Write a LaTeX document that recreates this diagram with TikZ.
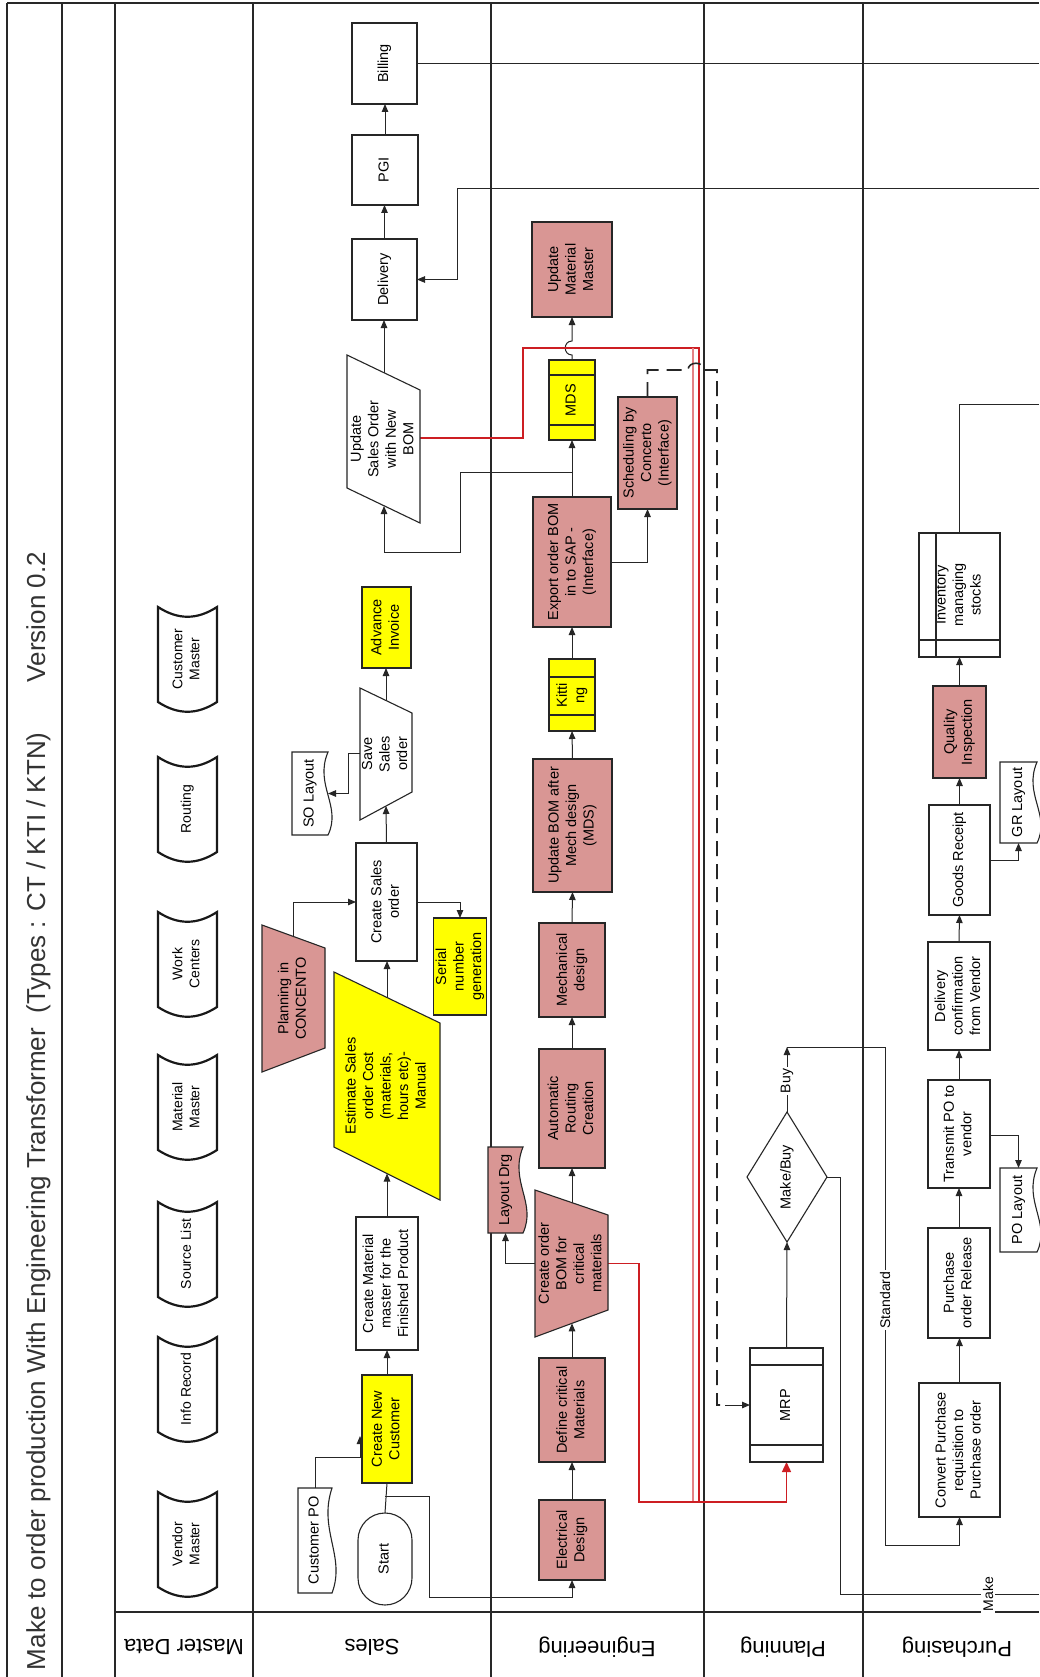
\documentclass[tikz,border=0pt]{standalone}
\usepackage{fontspec}
\setmainfont{Liberation Sans}
\usetikzlibrary{arrows.meta,shapes.geometric}
\pgfdeclarelayer{background}
\pgfsetlayers{background,main}
\definecolor{pinkfill}{RGB}{217,150,148}
\definecolor{yel}{RGB}{255,255,0}
\definecolor{redline}{RGB}{205,30,35}
\definecolor{lanegray}{RGB}{40,40,40}
% rotated, centred multi-line label
\newcommand\rtx[1]{\rotatebox{90}{\begin{tabular}{@{}c@{}}#1\end{tabular}}}
% document symbol with a wavy right edge: name, x1, x2, top, bottom, text, fill
\newcommand\docshape[7]{%
  \draw[shapeline, fill=#7] (#2,#4) -- (#3,#4)
    .. controls ({#3-14},{#4+0.4*(#5-#4)}) and ({#3+14},{#4+0.65*(#5-#4)}) .. (#3,#5)
    -- (#2,#5) -- cycle;
  \node[minimum width={(#3-#2)*1pt}, minimum height={(#5-#4)*1pt}] (#1)
    at ({(#2+#3)/2},{(#4+#5)/2}) {\rtx{#6}};}
\begin{document}
\begin{tikzpicture}[x=1pt,y=-1pt,
  every node/.style={font=\fontsize{14.5}{17.5}\selectfont, inner sep=0pt, outer sep=0pt},
  shapeline/.style={draw=black!85, line width=1.1pt},
  box/.style={shapeline, fill=white},
  pinkbox/.style={box, fill=pinkfill},
  yelbox/.style={box, fill=yel},
  sz/.style 2 args={minimum width=#1pt, minimum height=#2pt},
  conn/.style={draw=black!85, line width=1pt},
  arr/.style={conn, -{Triangle[length=8pt,width=6.5pt]}},
  redconn/.style={draw=redline, line width=1.4pt},
  lane/.style={draw=lanegray, line width=1.6pt},
  mdline/.style={draw=black!90, line width=2.2pt, fill=white},
  lanelabel/.style={rotate=180, font=\fontsize{22}{26}\selectfont},
  linelabel/.style={rotate=90, fill=white, inner sep=1.5pt, font=\fontsize{14}{16}\selectfont}
]
\useasboundingbox (0,0) rectangle (1039,1677);

% ---------- master data ----------
\foreach \nm/\ty/\txt in {mdcust/607/{Customer\\Master}, mdrout/757/{Routing},
    mdwork/912/{Work\\Centers}, mdmat/1055/{Material\\Master}, mdsrc/1202/{Source List},
    mdinfo/1337/{Info Record}, mdvend/1492/{Vendor\\Master}} {
  \draw[mdline] (158,\ty) .. controls (178,\ty+13) and (197,\ty+13) .. (217,\ty)
    -- (217,\ty+95) .. controls (197,\ty+108) and (178,\ty+108) .. (158,\ty+95) -- cycle;
  \node[font=\fontsize{14}{17}\selectfont] (\nm) at (187.5,\ty+52) {\rtx{\txt}};
}

% ---------- sales lane shapes ----------
\node[box, sz={65}{81}] (billing) at (384.5,63.5) {\rtx{Billing}};
\node[box, sz={66}{70}] (pgi) at (385,170) {\rtx{PGI}};
\node[box, sz={65}{81}] (delivery) at (384.5,279.5) {\rtx{Delivery}};
\draw[box] (347,355) -- (420,390) -- (420,523) -- (347,488) -- cycle;
\node[sz={73}{168}] (updso) at (383.5,439) {\rtx{Update\\Sales Order\\with New\\BOM}};
\coordinate (updsoT) at (384,373);
\coordinate (updsoB) at (384,506);
\node[yelbox, sz={49}{81}] (advinv) at (386.5,627.5) {\rtx{Advance\\Invoice}};
\draw[box] (360,688) -- (412,713) -- (412,792) -- (360,820) -- cycle;
\node[sz={52}{132}] (savso) at (386,754) {\rtx{Save\\Sales\\order}};
\coordinate (savsoT) at (386,700.5);
\coordinate (savsoB) at (386,806);
\docshape{solayout}{292}{328}{752}{835}{SO Layout}{white}
\node[box, sz={61}{118}] (cso) at (386.5,902) {\rtx{Create Sales\\order}};
\node[yelbox, sz={50}{97}] (serial) at (460,966.5) {\rtx{Serial\\number\\generation}};
\draw[box, fill=pinkfill] (262,925) -- (325,948) -- (325,1048) -- (262,1072) -- cycle;
\node[sz={63}{147}] (planning) at (293.5,998.5) {\rtx{Planning in\\CONCENTO}};
\coordinate (planT) at (293,936.3);
\draw[box, fill=yel] (334,972) -- (440,1023) -- (440,1200) -- (334,1147) -- cycle;
\node[sz={106}{228}] (estimate) at (387,1086) {\rtx{Estimate Sales\\order Cost\\(materials,\\hours etc)-\\Manual}};
\coordinate (estT) at (387,997.5);
\coordinate (estB) at (387,1173.5);
\node[box, sz={62}{133}] (cmm) at (387,1283.5) {\rtx{Create Material\\master for the\\Finished Product}};
\node[yelbox, sz={50}{108}] (cnc) at (387,1429) {\rtx{Create New\\Customer}};
\node[box, rounded corners=27pt, sz={54}{92}] (start) at (385,1559) {\rtx{Start}};
\docshape{custpo}{298}{332}{1488}{1593}{Customer PO}{white}

% ---------- engineering lane shapes ----------
\node[pinkbox, sz={80}{95}] (umm) at (572,269.5) {\rtx{Update\\Material\\Master}};
\node[yelbox, sz={46}{80}] (mds) at (572,400) {\rtx{MDS}};
\draw[shapeline] (549,375) -- (595,375) (549,425) -- (595,425);
\node[pinkbox, sz={59}{112}] (sched) at (647.5,453) {\rtx{Scheduling by\\Concerto\\(Interface)}};
\node[pinkbox, sz={78}{130}] (export) at (572,562) {\rtx{Export order BOM\\in to SAP -\\(Interface)}};
\node[yelbox, sz={46}{72}] (kitting) at (572,695) {\rtx{Kitti\\ng}};
\draw[shapeline] (549,677) -- (595,677) (549,715) -- (595,715);
\node[pinkbox, sz={79}{133}] (updbom) at (572.5,825.5) {\rtx{Update BOM after\\Mech design\\(MDS)}};
\node[pinkbox, sz={66}{94}] (mech) at (572,970) {\rtx{Mechanical\\design}};
\node[pinkbox, sz={66}{119}] (autorout) at (572,1108.5) {\rtx{Automatic\\Routing\\Creation}};
\draw[box, fill=pinkfill] (535,1190) -- (608,1215) -- (608,1310) -- (535,1337) -- cycle;
\node[sz={73}{147}] (cbom) at (571.5,1263.5) {\rtx{Create order\\BOM for\\critical\\materials}};
\coordinate (cbomT) at (572,1202.7);
\coordinate (cbomB) at (572,1323.3);
\docshape{layoutdrg}{488}{523}{1147}{1233}{Layout Drg}{pinkfill}
\node[pinkbox, sz={66}{104}] (defcrit) at (572,1410) {\rtx{Define critical\\Materials}};
\node[pinkbox, sz={66}{80}] (elec) at (572,1540) {\rtx{Electrical\\Design}};

% ---------- planning lane shapes ----------
\node[box, sz={73}{114}] (mrp) at (786.5,1405) {\rtx{MRP}};
\draw[shapeline] (750,1365) -- (823,1365) (750,1445) -- (823,1445);
\node[box, diamond, aspect=0.6, minimum width=80pt, minimum height=130pt] (mb) at (787,1177) {\rtx{Make/Buy}};

% ---------- purchasing lane shapes ----------
\node[box, sz={81}{124}] (inv) at (959.5,595) {\rtx{Inventory\\managing\\stocks}};
\draw[shapeline] (936,533) -- (936,657) (919,640) -- (1000,640);
\node[pinkbox, sz={53}{92}] (qi) at (959.5,732) {\rtx{Quality\\Inspection}};
\docshape{grlayout}{1000}{1037}{762}{843}{GR Layout}{white}
\node[box, sz={61}{110}] (gr) at (959.5,860) {\rtx{Goods Receipt}};
\node[box, sz={62}{108}] (delconf) at (959,996) {\rtx{Delivery\\confirmation\\from Vendor}};
\node[box, sz={62}{108}] (transmit) at (959,1134) {\rtx{Transmit PO to\\vendor}};
\docshape{polayout}{1000}{1037}{1168}{1252}{PO Layout}{white}
\node[box, sz={62}{110}] (porel) at (959,1283) {\rtx{Purchase\\order Release}};
\node[box, sz={81}{134}] (convpr) at (959.5,1450) {\rtx{Convert Purchase\\requisition to\\Purchase order}};

% ---------- line labels ----------
\node[linelabel] (lbuy) at (787,1081) {Buy};
\node[linelabel] (lstd) at (885,1300) {Standard};
\node[linelabel] (lmake) at (988,1594) {Make};

% ---------- frame and connectors, underneath the shapes ----------
\begin{pgfonlayer}{background}
\fill[white] (0,0) rectangle (1039,1677);
\draw[lane] (7,3) -- (1039,3);
\foreach \x in {7,62,115,253,491,704,863} \draw[lane] (\x,3) -- (\x,1677);
\draw[lane] (115,1612) -- (1039,1612);

\node[rotate=90, anchor=base west, font=\fontsize{26}{30}\selectfont, text=black!80] (title)
  at (45,1670) {Make to order production With Engineering Transformer\ \ (Types : CT / KTI / KTN)};
\node[rotate=90, anchor=base east, font=\fontsize{26}{30}\selectfont, text=black!80] (version)
  at (45,552) {Version 0.2};

\node[lanelabel] (lmd) at (184,1647) {Master Data};
\node[lanelabel] (lsales) at (372,1647) {Sales};
\node[lanelabel] (leng) at (597,1647) {Engineering};
\node[lanelabel] (lplan) at (783,1647) {Planning};
\node[lanelabel] (lpur) at (957,1647) {Purchasing};

% sales
\draw[conn] (start.north) -- (cnc.south);
\coordinate (sbr) at (385,1496);
\draw[arr] (sbr) -| (429,1597) -| (elec.south);
\draw[arr] (custpo.north) |- (360,1457) -- (360,1436);
\draw[arr] (cnc.north) -- (cnc.north |- cmm.south);
\draw[arr] (cmm.north) -- (estB);
\draw[arr] (estT) -- (estT |- cso.south);
\draw[arr] (planT) |- (cso.west |- 0,902);
\draw[arr] (cso.east |- 0,902) -| (serial.north);
\draw[arr] (cso.north) -- (savsoB);
\draw[arr] (savso.west |- 0,753) -| (348,793.5) -- (solayout.east);
\draw[arr] (savsoT) -- (savsoT |- advinv.south);
\draw[arr] (updsoT) -- (updsoT |- delivery.south);
\draw[arr] (delivery.north) -- (delivery.north |- pgi.south);
\draw[arr] (pgi.north) -- (pgi.north |- billing.south);
\draw[conn] (billing.east) -- (1039,63.5);
\draw[arr] (1039,189) -| (457,279.5) -- (delivery.east);

% engineering
\draw[arr] (elec.north) -- (defcrit.south);
\draw[arr] (defcrit.north) -- (cbomB);
\draw[arr] (cbomT) -- (autorout.south);
\draw[arr] (autorout.north) -- (mech.south);
\draw[arr] (mech.north) -- (updbom.south);
\draw[arr] (updbom.north) -- (kitting.south);
\draw[arr] (kitting.north) -- (export.south);
\draw[arr] (export.north) -- (mds.south);
\draw[arr] (export.north) -- (572,472) -| (460,552) -| (updsoB);
\draw[arr] (export.east |- 0,562) -| (sched.south);
\draw[arr] (cbom.west) -| (layoutdrg.south);
\draw[arr] (mds.north) -- (572,355) .. controls (563,355) and (563,341) .. (572,341) -- (umm.south);

% red links into MRP (paired run along the lane edge)
\draw[redconn] (updso.east |- 0,438) -| (523,348) -| (699,1502);
\draw[draw=redline!55, line width=1.2pt] (693,348) -- (693,1502);
\draw[redconn] (cbom.east) -| (639,1502) -- (699,1502);
\draw[redconn, -{Triangle[length=10pt,width=9pt]}] (699,1502) -| (mrp.south);

% scheduling feedback into MRP
\draw[conn, line width=1.6pt, dash pattern=on 15pt off 8pt] (sched.north) |- (688,370)
  .. controls (688,361) and (704,361) .. (704,370) -- (717,370) -- (717,1405) -- (725,1405);
\draw[arr] (725,1405) -- (mrp.west);

% planning / purchasing
\draw[arr] (mrp.north) -- (mb.south);
\draw[arr] (mb.north) -- (787,1047);
\draw[arr] (787,1047) -| (885,1545) -| (convpr.south);
\draw[conn] (mb.east) -| (840,1594) -- (1039,1594);

\draw[arr] (convpr.north) -- (convpr.north |- porel.south);
\draw[arr] (porel.north) -- (transmit.south);
\draw[arr] (transmit.north) -- (delconf.south);
\draw[arr] (transmit.east |- 0,1135) -| (polayout.north);
\draw[arr] (delconf.north) -- (gr.south);
\draw[arr] (gr.north) -- (gr.north |- qi.south);
\draw[arr] (gr.east |- 0,860) -| (grlayout.south);
\draw[arr] (qi.north) -- (qi.north |- inv.south);
\draw[conn] (inv.north) |- (1039,404);
\end{pgfonlayer}
\end{tikzpicture}
\end{document}
